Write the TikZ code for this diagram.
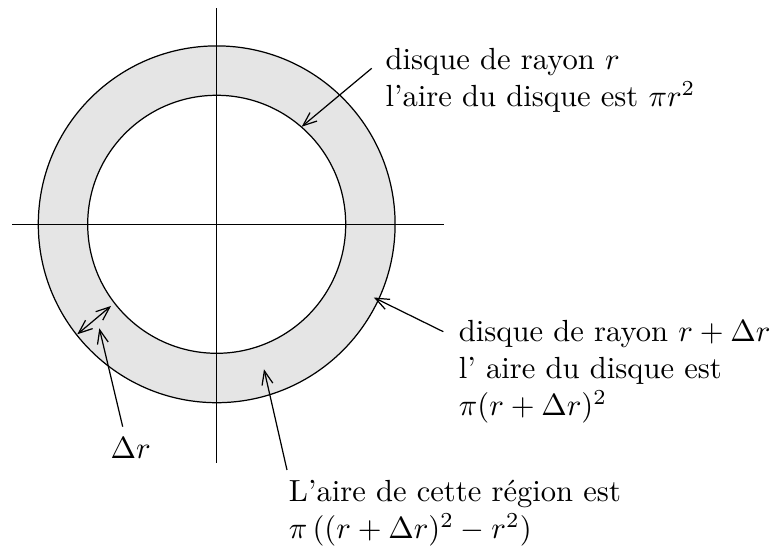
\documentclass[tikz,border=0pt]{standalone}
\usetikzlibrary{arrows.meta}
\begin{document}
\begin{tikzpicture}[x=0.327pt,y=-0.327pt,
  axis/.style={line width=0.4pt},
  ring/.style={line width=0.4pt},
  pointer/.style={line width=0.4pt,-{Straight Barb[length=4.5pt,width=3.6pt]}},
  dpointer/.style={line width=0.4pt,{Straight Barb[length=4.5pt,width=3.6pt]}-{Straight Barb[length=4.5pt,width=3.6pt]}},
  lbl/.style={inner sep=0pt,align=left,anchor=north west}]
\useasboundingbox (0,0) rectangle (776,546);
% annulus
\coordinate (O) at (216.7,224.3);
\fill[gray!20,even odd rule] (O) circle[radius=178.4*0.327pt] (O) circle[radius=129*0.327pt];
\draw[ring] (O) circle[radius=178.4*0.327pt];
\draw[ring] (O) circle[radius=129*0.327pt];
% axes
\coordinate (xl) at (12.3,224.3);
\coordinate (xr) at (444.3,224.3);
\coordinate (yt) at (216.7,8.3);
\coordinate (yb) at (216.7,463.3);
\draw[axis] (xl) -- (xr);
\draw[axis] (yt) -- (yb);
% labels
\node[lbl] (t1) at (385,48) {disque de rayon $r$\\l'aire du disque est $\pi r^2$};
\node[lbl] (t2) at (458.3,320) {disque de rayon $r+\Delta r$\\l' aire du disque est\\$\pi(r+\Delta r)^2$};
\node[lbl] (t3) at (288.3,480) {L'aire de cette région est\\$\pi\,((r+\Delta r)^2-r^2)$};
\node[inner sep=0pt,anchor=base west] (dr) at (110,458.3) {$\Delta r$};
% arrow end points
\coordinate (a1s) at (371.7,68.3);
\coordinate (a1e) at (301.7,126.7);
\coordinate (a2s) at (443.3,331.7);
\coordinate (a2e) at (373.8,297.5);
\coordinate (a3s) at (287,470);
\coordinate (a3e) at (264,369.3);
\coordinate (a4s) at (122.7,426.7);
\coordinate (a4e) at (99.3,328.3);
\coordinate (d1) at (77.3,334.3);
\coordinate (d2) at (111,306);
% arrows
\draw[pointer] (a1s) -- (a1e);
\draw[pointer] (a2s) -- (a2e);
\draw[pointer] (a3s) -- (a3e);
\draw[pointer] (a4s) -- (a4e);
\draw[dpointer] (d1) -- (d2);
\end{tikzpicture}
\end{document}
